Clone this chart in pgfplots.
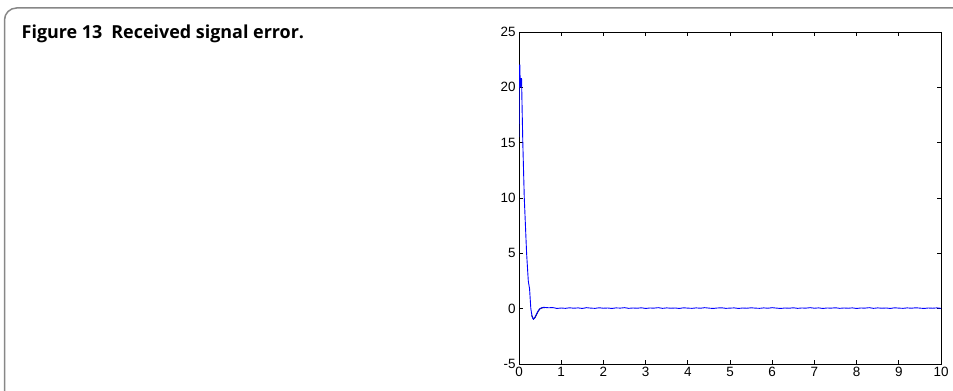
\documentclass[border=0pt]{standalone}
\usepackage{pgfplots}
\pgfplotsset{compat=1.18}
\usepackage{fontspec}
\setmainfont{Liberation Sans}
\newfontfamily\capfont{Open Sans}
\definecolor{framegray}{RGB}{135,135,135}
\begin{document}
\begin{tikzpicture}[x=1bp,y=1bp]
\useasboundingbox (0,0) rectangle (953,390);
\begin{scope}
\clip (0,0) rectangle (953,390);
\draw[framegray, line width=1.5bp, rounded corners=12bp] (4.5,-30) -- (4.5,382) -- (990,382);
\end{scope}
\node[anchor=base west, inner sep=0] at (21.5,352) {\capfont\bfseries\fontsize{18}{21}\selectfont Figure 13\hspace{0.5em}Received signal error.};
\begin{axis}[at={(519bp,26bp)}, anchor=south west, scale only axis,
  width=422bp, height=332bp,
  xmin=0, xmax=10, ymin=-5, ymax=25,
  xtick={0,1,...,10}, ytick={-5,0,5,10,15,20,25},
  tick align=inside, major tick length=4bp,
  axis line style={black, line width=0.8bp},
  every tick/.style={black, line width=0.8bp},
  ticklabel style={font=\fontsize{13.5}{15}\selectfont},
  /pgf/number format/assume math mode=true,
  ]
\addplot[black, line width=0.9bp] coordinates {
(0.30,-0.6) (0.34,-0.95) (0.38,-0.8) (0.42,-0.5) (0.46,-0.2) (0.50,0.0) (0.55,0.08) (0.62,0.1)
};
\addplot[blue, line width=0.9bp] coordinates {
(0,15.5) (0.005,22) (0.02,22) (0.03,20) (0.045,20.8) (0.06,20.8) (0.075,17.8) (0.09,15)
(0.125,10) (0.18,5) (0.22,2.5) (0.25,1.8) (0.28,0) (0.31,-0.7) (0.34,-0.95)
(0.37,-0.85) (0.40,-0.6) (0.44,-0.3) (0.48,-0.05) (0.52,0.05) (0.58,0.12) (0.65,0.1)
(0.7,0.08) (0.8,0.1) (0.9,0.02) (1.0,0.06) (1.1,0.03) (1.2,0.08) (1.3,0.04) (1.4,0.07)
(1.5,0.02) (1.6,0.09) (1.7,0.05) (1.8,0.03) (1.9,0.08) (2.0,0.04) (2.1,0.06) (2.2,0.02)
(2.3,0.07) (2.4,0.05) (2.5,0.09) (2.6,0.03) (2.7,0.06) (2.8,0.04) (2.9,0.08) (3.0,0.02)
(3.1,0.06) (3.2,0.05) (3.3,0.09) (3.4,0.03) (3.5,0.07) (3.6,0.04) (3.7,0.06) (3.8,0.02)
(3.9,0.08) (4.0,0.05) (4.1,0.03) (4.2,0.07) (4.3,0.04) (4.4,0.09) (4.5,0.05) (4.6,0.02)
(4.7,0.06) (4.8,0.08) (4.9,0.03) (5.0,0.05) (5.1,0.07) (5.2,0.02) (5.3,0.06) (5.4,0.04)
(5.5,0.08) (5.6,0.05) (5.7,0.03) (5.8,0.07) (5.9,0.04) (6.0,0.09) (6.1,0.05) (6.2,0.02)
(6.3,0.06) (6.4,0.04) (6.5,0.08) (6.6,0.03) (6.7,0.06) (6.8,0.05) (6.9,0.09) (7.0,0.04)
(7.1,0.07) (7.2,0.02) (7.3,0.06) (7.4,0.05) (7.5,0.08) (7.6,0.03) (7.7,0.06) (7.8,0.04)
(7.9,0.07) (8.0,0.02) (8.1,0.06) (8.2,0.05) (8.3,0.09) (8.4,0.03) (8.5,0.07) (8.6,0.04)
(8.7,0.06) (8.8,0.02) (8.9,0.08) (9.0,0.05) (9.1,0.03) (9.2,0.07) (9.3,0.04) (9.4,0.08)
(9.5,0.05) (9.6,0.02) (9.7,0.06) (9.8,0.04) (9.9,0.07) (10.0,0.03)
};
\end{axis}
\end{tikzpicture}
\end{document}
